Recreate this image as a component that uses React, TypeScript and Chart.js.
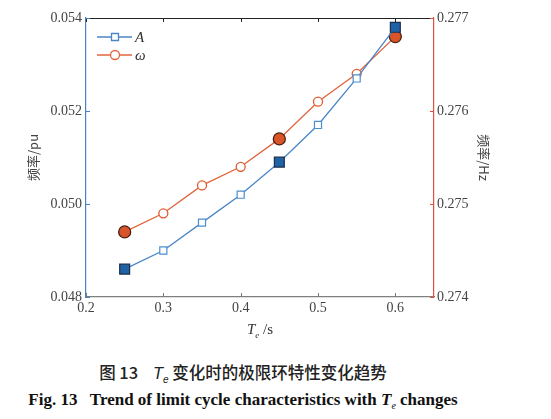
import { useEffect, useRef } from "react";
import { Chart, registerables } from "chart.js";

Chart.register(...registerables);

// Te (s) and the two limit-cycle characteristics
const T_VALUES = [0.25, 0.3, 0.35, 0.4, 0.45, 0.5, 0.55, 0.6];
const A_VALUES = [0.0486, 0.049, 0.0496, 0.0502, 0.0509, 0.0517, 0.0527, 0.0538];
const W_VALUES = [0.2747, 0.2749, 0.2752, 0.2754, 0.2757, 0.2761, 0.2764, 0.2768];
const HIGHLIGHT_T = [0.25, 0.45, 0.6];

const X_TICKS = [0.2, 0.3, 0.4, 0.5, 0.6];
const Y_LEFT_TICKS = [0.048, 0.05, 0.052, 0.054];
const Y_RIGHT_TICKS = [0.274, 0.275, 0.276, 0.277];

const SERIF = "'Liberation Serif', 'Times New Roman', serif";
const CJK = "'Noto Sans CJK SC', sans-serif";

const BLUE = "#4a86c6";
const ORANGE = "#e2643c";

const isHi = (i: number) => HIGHLIGHT_T.includes(T_VALUES[i]);

const framePlugin = {
  id: "frame",
  afterDraw(chart: any) {
    const { ctx, chartArea } = chart;
    const { left, right, top, bottom } = chartArea;
    const x = chart.scales.x;
    const y = chart.scales.y;
    const y1 = chart.scales.y1;
    const tl = 4;
    ctx.save();
    ctx.lineWidth = 1;

    // top frame line
    ctx.strokeStyle = "#222";
    ctx.beginPath();
    ctx.moveTo(left, top + 0.5);
    ctx.lineTo(right, top + 0.5);
    ctx.stroke();

    // inward ticks
    X_TICKS.forEach((v) => {
      const px = Math.round(x.getPixelForValue(v)) + 0.5;
      ctx.strokeStyle = "#222";
      ctx.beginPath();
      ctx.moveTo(px, top);
      ctx.lineTo(px, top + tl);
      ctx.stroke();
      ctx.strokeStyle = "#777";
      ctx.beginPath();
      ctx.moveTo(px, bottom);
      ctx.lineTo(px, bottom - tl);
      ctx.stroke();
    });
    ctx.strokeStyle = "#4a7fc0";
    Y_LEFT_TICKS.forEach((v) => {
      const py = Math.round(y.getPixelForValue(v)) + 0.5;
      ctx.beginPath();
      ctx.moveTo(left, py);
      ctx.lineTo(left + tl, py);
      ctx.stroke();
    });
    ctx.strokeStyle = "#e0503c";
    Y_RIGHT_TICKS.forEach((v) => {
      const py = Math.round(y1.getPixelForValue(v)) + 0.5;
      ctx.beginPath();
      ctx.moveTo(right, py);
      ctx.lineTo(right - tl, py);
      ctx.stroke();
    });

    // x title: T_e /s
    ctx.fillStyle = "#333";
    ctx.textBaseline = "alphabetic";
    ctx.font = `italic 15px ${SERIF}`;
    const wT = ctx.measureText("T").width;
    ctx.font = `italic 9px ${SERIF}`;
    const wE = ctx.measureText("e").width;
    ctx.font = `15px ${SERIF}`;
    const wS = ctx.measureText(" /s").width;
    const total = wT + wE + wS;
    let cx = (left + right) / 2 - total / 2;
    const by = 334;
    ctx.textAlign = "left";
    ctx.font = `italic 15px ${SERIF}`;
    ctx.fillText("T", cx, by);
    cx += wT;
    ctx.font = `italic 9px ${SERIF}`;
    ctx.fillText("e", cx, by + 4);
    cx += wE;
    ctx.font = `15px ${SERIF}`;
    ctx.fillText(" /s", cx, by);

    // legend
    const lx0 = left + 11;
    const lx1 = left + 46;
    const mx = left + 29;
    const rows = [
      { yy: top + 19, color: BLUE, label: "A", square: true },
      { yy: top + 37, color: ORANGE, label: "\u03c9", square: false },
    ];
    rows.forEach((r) => {
      ctx.strokeStyle = r.color;
      ctx.lineWidth = 1.3;
      ctx.beginPath();
      ctx.moveTo(lx0, r.yy);
      ctx.lineTo(lx1, r.yy);
      ctx.stroke();
      ctx.fillStyle = "#fff";
      ctx.beginPath();
      if (r.square) ctx.rect(mx - 3.5, r.yy - 3.5, 7, 7);
      else ctx.arc(mx, r.yy, 4.5, 0, Math.PI * 2);
      ctx.fill();
      ctx.stroke();
      ctx.fillStyle = "#333";
      ctx.font = `italic 15px ${SERIF}`;
      ctx.textBaseline = "middle";
      ctx.fillText(r.label, lx1 + 3, r.yy + 1);
    });
    ctx.restore();
  },
};

export default function App() {
  const canvasRef = useRef<HTMLCanvasElement>(null);

  useEffect(() => {
    if (!canvasRef.current) return;
    const chart = new Chart(canvasRef.current, {
      type: "line",
      data: {
        datasets: [
          {
            label: "A",
            data: T_VALUES.map((t, i) => ({ x: t, y: A_VALUES[i] })),
            yAxisID: "y",
            borderColor: BLUE,
            borderWidth: 1.3,
            pointStyle: "rect",
            pointRadius: T_VALUES.map((_, i) => (isHi(i) ? 7 : 5)),
            pointBackgroundColor: T_VALUES.map((_, i) => (isHi(i) ? "#1f62a6" : "#ffffff")),
            pointBorderColor: T_VALUES.map((_, i) => (isHi(i) ? "#1b2f4c" : "#4a8fd0")),
            pointBorderWidth: 1.2,
            tension: 0,
          },
          {
            label: "\u03c9",
            data: T_VALUES.map((t, i) => ({ x: t, y: W_VALUES[i] })),
            yAxisID: "y1",
            borderColor: ORANGE,
            borderWidth: 1.3,
            pointStyle: "circle",
            pointRadius: T_VALUES.map((_, i) => (isHi(i) ? 6 : 4.5)),
            pointBackgroundColor: T_VALUES.map((_, i) => (isHi(i) ? "#d8552a" : "#ffffff")),
            pointBorderColor: T_VALUES.map((_, i) => (isHi(i) ? "#4a2012" : "#e05a30")),
            pointBorderWidth: 1.3,
            tension: 0,
          },
        ],
      },
      options: {
        responsive: true,
        maintainAspectRatio: false,
        animation: false,
        layout: { padding: { top: 18, left: 0, right: 0, bottom: 0 } },
        plugins: { legend: { display: false }, tooltip: { enabled: false } },
        scales: {
          x: {
            type: "linear",
            min: 0.2,
            max: 0.65,
            afterBuildTicks: (s: any) => {
              s.ticks = X_TICKS.map((v) => ({ value: v }));
            },
            afterFit: (s: any) => {
              s.height = 48;
            },
            grid: { display: true, drawOnChartArea: false, drawTicks: false, color: "rgba(0,0,0,0)" },
            border: { display: true, color: "#7f7f7f", width: 1.2 },
            ticks: {
              padding: 3,
              color: "#444",
              font: { family: SERIF, size: 14 },
              maxRotation: 0,
              callback: (v: any) => Number(v).toFixed(1),
            },
          },
          y: {
            type: "linear",
            position: "left",
            min: 0.048,
            max: 0.054,
            afterBuildTicks: (s: any) => {
              s.ticks = Y_LEFT_TICKS.map((v) => ({ value: v }));
            },
            afterFit: (s: any) => {
              s.width = 86;
            },
            grid: { display: true, drawOnChartArea: false, drawTicks: false, color: "rgba(0,0,0,0)" },
            border: { display: true, color: "#4a7fc0", width: 1.2 },
            ticks: {
              padding: 4,
              color: "#444",
              font: { family: SERIF, size: 14 },
              callback: (v: any) => Number(v).toFixed(3),
            },
            title: {
              display: true,
              text: "\u9891\u7387/pu",
              color: "#444",
              font: { family: CJK, size: 13 },
              padding: { top: 25, bottom: 0 },
            },
          },
          y1: {
            type: "linear",
            position: "right",
            min: 0.274,
            max: 0.277,
            afterBuildTicks: (s: any) => {
              s.ticks = Y_RIGHT_TICKS.map((v) => ({ value: v }));
            },
            afterFit: (s: any) => {
              s.width = 117;
            },
            grid: { display: true, drawOnChartArea: false, drawTicks: false, color: "rgba(0,0,0,0)" },
            border: { display: true, color: "#e0503c", width: 1.2 },
            ticks: {
              padding: 3,
              color: "#444",
              font: { family: SERIF, size: 14 },
              callback: (v: any) => Number(v).toFixed(3),
            },
            title: {
              display: true,
              text: "\u9891\u7387/Hz",
              color: "#444",
              font: { family: CJK, size: 13 },
              padding: { top: 59, bottom: 0 },
            },
          },
        },
      },
      plugins: [framePlugin],
    });
    return () => chart.destroy();
  }, []);

  return (
    <div style={{ position: "absolute", left: 0, top: 0, width: 551, height: 419, background: "#fff" }}>
      <div style={{ position: "absolute", left: 0, top: 0, width: 551, height: 345 }}>
        <canvas ref={canvasRef} />
      </div>
      <div
        style={{
          position: "absolute",
          left: 0,
          width: 486,
          top: 361,
          textAlign: "center",
          fontFamily: CJK,
          fontSize: 16.5,
          fontWeight: 500,
          color: "#222",
          whiteSpace: "pre",
          lineHeight: "22px",
        }}
      >
        {"\u56fe 13    "}
        <i style={{ fontFamily: "'Liberation Sans', sans-serif" }}>T</i>
        <sub style={{ fontSize: 10, fontStyle: "italic", fontFamily: "'Liberation Sans', sans-serif" }}>e</sub>
        {" \u53d8\u5316\u65f6\u7684\u6781\u9650\u73af\u7279\u6027\u53d8\u5316\u8d8b\u52bf"}
      </div>
      <div
        style={{
          position: "absolute",
          left: 0,
          width: 486,
          top: 389,
          textAlign: "center",
          fontFamily: SERIF,
          fontSize: 17,
          fontWeight: "bold",
          color: "#111",
          whiteSpace: "pre",
          lineHeight: "22px",
        }}
      >
        {"Fig. 13   Trend of limit cycle characteristics with "}
        <i>T</i>
        <sub style={{ fontSize: 10, fontStyle: "italic", fontWeight: "normal" }}>e</sub>
        {" changes"}
      </div>
    </div>
  );
}
